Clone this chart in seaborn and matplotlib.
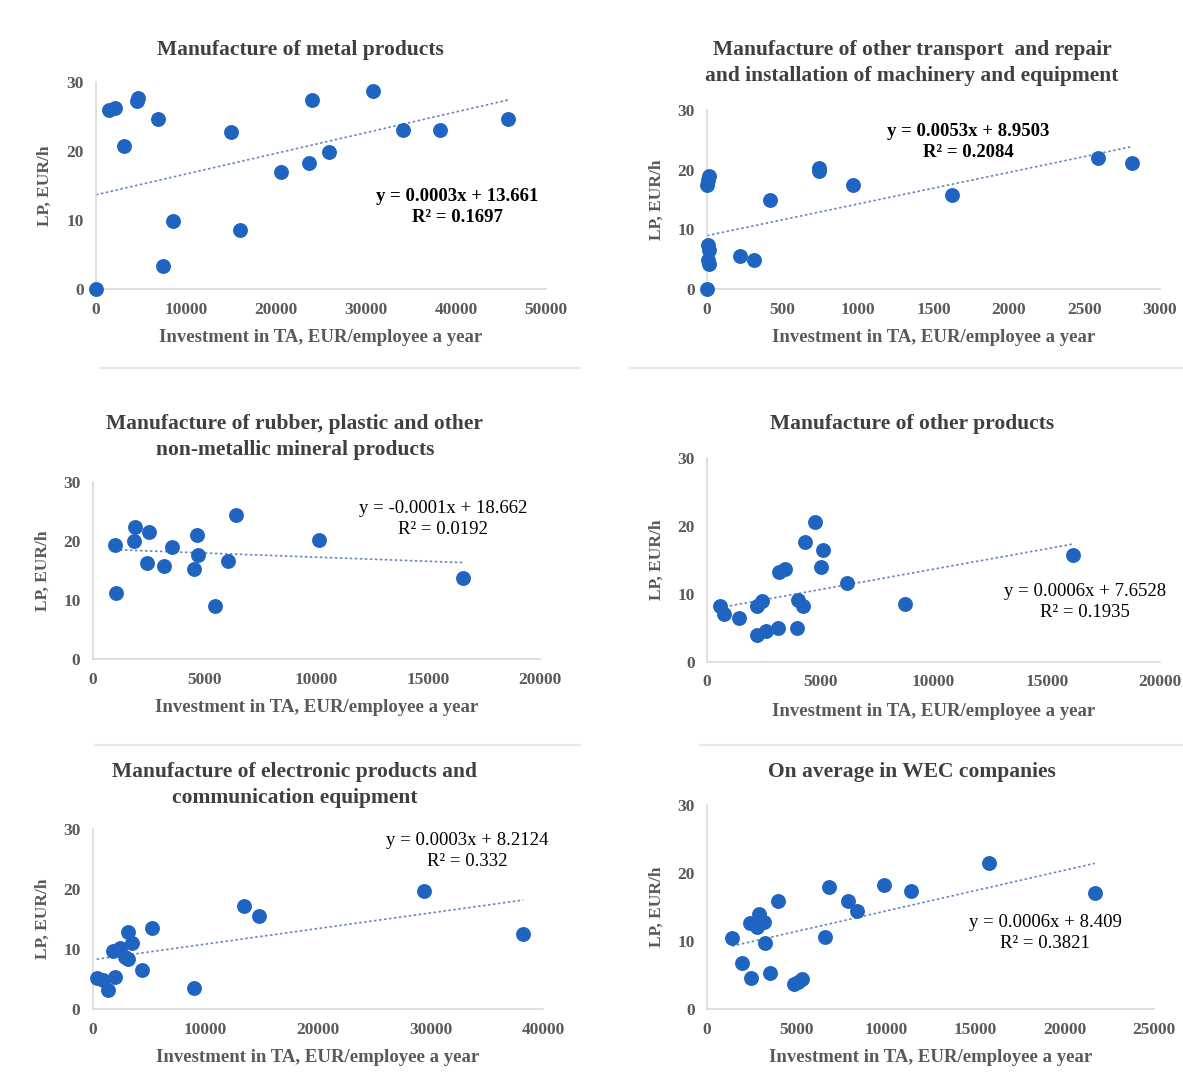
import matplotlib
matplotlib.use('Agg')
import matplotlib.pyplot as plt
import seaborn as sns
import numpy as np
import pandas as pd
from matplotlib.lines import Line2D

# ---------------- data ----------------
metal_x = [0, 1480, 2110, 3150, 4520, 4700, 6850, 7480, 8520, 15000, 16000,
           20600, 23700, 23960, 25930, 30810, 34070, 38220, 45800]
metal_y = [0, 26.0, 26.3, 20.7, 27.2, 27.7, 24.6, 3.4, 9.9, 22.8, 8.6,
           17.0, 18.3, 27.4, 19.8, 28.7, 23.1, 23.1, 24.7]

transp_x = [0, 0, 5, 12, 8, 10, 5, 15, 217, 313, 419, 741, 745, 965, 1620, 2590, 2815]
transp_y = [0, 17.5, 18.2, 19.0, 7.3, 6.5, 4.8, 4.2, 5.6, 4.9, 15.0, 20.2, 19.8,
            17.5, 15.7, 21.9, 21.2]

rubber_x = [983, 1050, 1864, 1830, 2490, 2400, 3170, 3525, 4660, 4710, 4540,
            5470, 6020, 6390, 10120, 16550]
rubber_y = [19.3, 11.2, 22.4, 20.0, 21.6, 16.2, 15.8, 19.0, 21.0, 17.7, 15.2,
            9.0, 16.6, 24.4, 20.2, 13.8]

other_x = [574, 770, 1426, 2213, 2410, 2213, 2623, 3115, 3200, 3440, 3980,
           4016, 4230, 4310, 4790, 5110, 5030, 6180, 8740, 16150]
other_y = [8.2, 7.0, 6.5, 8.2, 8.9, 3.9, 4.5, 5.0, 13.2, 13.7, 5.0,
           9.1, 8.3, 17.6, 20.6, 16.5, 14.0, 11.6, 8.5, 15.7]

elec_x = [330, 920, 1360, 1960, 1800, 2400, 2840, 3140, 3140, 3440,
          4330, 5240, 9000, 13450, 14780, 29450, 38250]
elec_y = [5.1, 4.9, 3.2, 5.4, 9.7, 10.1, 8.7, 8.3, 12.9, 10.95,
          6.5, 13.45, 3.55, 17.2, 15.5, 19.7, 12.45]

avg_x = [1405, 1963, 2480, 2417, 2893, 2790, 3161, 3244, 3512, 3967, 4855, 5062,
         5330, 6612, 6818, 7870, 8368, 9917, 11400, 15765, 21694]
avg_y = [10.5, 6.7, 4.5, 12.6, 13.9, 12.0, 12.8, 9.7, 5.3, 15.9, 3.7, 3.9,
         4.4, 10.6, 17.9, 15.9, 14.4, 18.3, 17.3, 21.4, 17.1]

titles = ["Manufacture of metal products",
          "Manufacture of other transport  and repair\nand installation of machinery and equipment",
          "Manufacture of rubber, plastic and other\nnon-metallic mineral products",
          "Manufacture of other products",
          "Manufacture of electronic products and\ncommunication equipment",
          "On average in WEC companies"]
# trend line coefficients as drawn in the picture
slopes = [0.0003, 0.0053, -0.00014, 0.0006, 0.00026, 0.0006]
intercepts = [13.661, 8.9503, 18.662, 7.6528, 8.2124, 8.409]
eq_texts = ["y = 0.0003x + 13.661", "y = 0.0053x + 8.9503", "y = -0.0001x + 18.662",
            "y = 0.0006x + 7.6528", "y = 0.0003x + 8.2124", "y = 0.0006x + 8.409"]
r2_texts = ["R² = 0.1697", "R² = 0.2084", "R² = 0.0192",
            "R² = 0.1935", "R² = 0.332", "R² = 0.3821"]
x_max = [50000, 3000, 20000, 20000, 40000, 25000]
x_step = [10000, 500, 5000, 5000, 10000, 5000]
y_ticks = [0, 10, 20, 30]
xlabel = "Investment in TA, EUR/employee a year"
ylabel = "LP, EUR/h"

datasets = [(metal_x, metal_y), (transp_x, transp_y), (rubber_x, rubber_y),
            (other_x, other_y), (elec_x, elec_y), (avg_x, avg_y)]

# ---------------- layout (pixels) ----------------
W, H = 1183, 1090
boxes = [  # left, right, top, bottom of plot area
    (96, 546, 82, 289),
    (707, 1160, 110, 289),
    (93, 540, 482, 659),
    (707, 1160, 458, 662),
    (93, 543, 829, 1009),
    (707, 1154, 805, 1009),
]
title_y = [50, 63, 437, 424, 785, 772]
title_x = [300, 912, 295, 912, 295, 912]
eq_pos = [(457, 207), (968, 142), (443, 519), (1085, 602), (467, 851), (1045, 933)]
eq_bold = [True, True, False, False, False, False]
xlabel_y = [338, 338, 708, 712, 1057, 1057]
ylabel_x = [45, 657, 43, 657, 43, 657]

sns.set_theme(style="white")
plt.rcParams['font.family'] = ['Liberation Serif', 'DejaVu Serif']

GRAY = '#595959'
TITLE = '#404040'
BLUE = '#1f64c0'
TREND = '#6a84c0'

fig = plt.figure(figsize=(W / 100, H / 100), dpi=100)
fig.patch.set_facecolor('white')

# faint panel separators
for (x0, x1, y) in [(100, 580, 368), (630, 1183, 368), (95, 580, 745), (700, 1183, 745)]:
    fig.add_artist(Line2D([x0 / W, x1 / W], [1 - y / H, 1 - y / H], color='#e6e6e6', lw=1.5))

for i, ((xs, ys), (l, r, t, b)) in enumerate(zip(datasets, boxes)):
    ax = fig.add_axes([l / W, 1 - b / H, (r - l) / W, (b - t) / H])
    df = pd.DataFrame({'x': xs, 'y': ys})
    xx = np.array([min(xs), max(xs)], dtype=float)
    ax.plot(xx, slopes[i] * xx + intercepts[i], color=TREND, lw=1.2,
            linestyle=(0, (1.5, 1.5)), zorder=2)
    sns.scatterplot(data=df, x='x', y='y', ax=ax, s=115, color=BLUE,
                    edgecolor=BLUE, linewidth=0, zorder=3, clip_on=False)
    ax.set_xlim(0, x_max[i])
    ax.set_ylim(0, 30)
    ax.set_xticks(np.arange(0, x_max[i] + 1, x_step[i]))
    ax.set_yticks(y_ticks)
    ax.tick_params(axis='both', length=0, labelsize=12.5, colors=GRAY, pad=9)
    for lab in ax.get_xticklabels() + ax.get_yticklabels():
        lab.set_fontweight('bold')
    for s in ['top', 'right']:
        ax.spines[s].set_visible(False)
    for s in ['left', 'bottom']:
        ax.spines[s].set_color('#d9d9d9')
        ax.spines[s].set_linewidth(1.2)
    ax.set_xlabel('')
    ax.set_ylabel('')
    ax.set_facecolor('none')

    # title
    fig.text(title_x[i] / W, 1 - title_y[i] / H, titles[i], ha='center', va='center',
             fontsize=15.5, fontweight='bold', color=TITLE, linespacing=1.45)
    # axis labels
    fig.text((l + r) / 2 / W, 1 - xlabel_y[i] / H, xlabel, ha='center', va='center',
             fontsize=13.5, fontweight='bold', color=GRAY)
    fig.text(ylabel_x[i] / W, 1 - (t + b) / 2 / H, ylabel, ha='center', va='center',
             rotation=90, fontsize=12.5, fontweight='bold', color=GRAY)
    # equation
    ex, ey = eq_pos[i]
    fig.text(ex / W, 1 - ey / H, eq_texts[i] + "\n" + r2_texts[i], ha='center', va='center',
             fontsize=13.5, fontweight='bold' if eq_bold[i] else 'normal', color='black',
             linespacing=1.3)

fig.savefig('out.png', dpi=100, facecolor='white')
